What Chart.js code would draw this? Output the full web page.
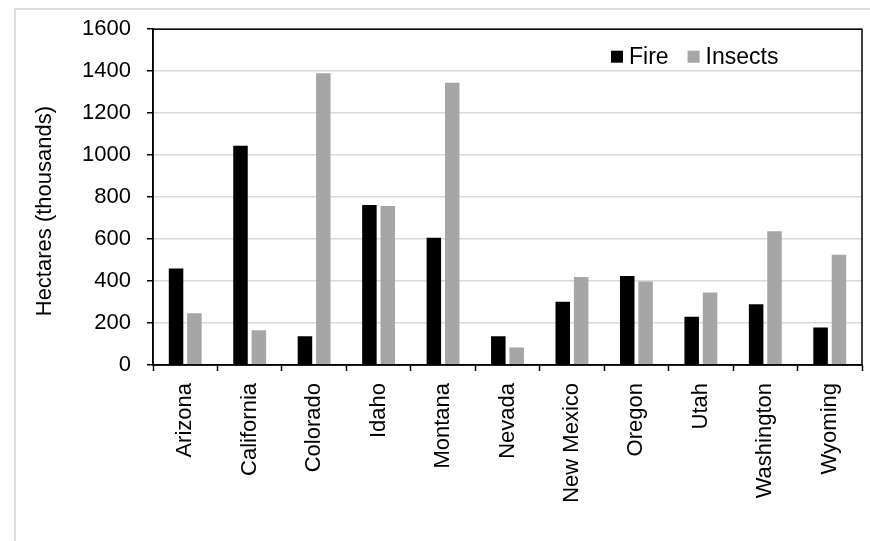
<!DOCTYPE html>
<html>
<head>
<meta charset="utf-8">
<script src="https://cdn.jsdelivr.net/npm/chart.js@4/dist/chart.umd.min.js"></script>
<style>
  html, body { margin: 0; padding: 0; background: #fff; }
  #wrap { width: 870px; height: 541px; position: relative; }
</style>
</head>
<body>
<div id="wrap"><canvas id="c" width="870" height="541"></canvas></div>
<script>
// Area affected by fire and insects, by western state (thousand hectares)
const states = ['Arizona', 'California', 'Colorado', 'Idaho', 'Montana', 'Nevada',
                'New Mexico', 'Oregon', 'Utah', 'Washington', 'Wyoming'];
const fireValues    = [460, 1045, 137, 762, 606, 137, 301, 424, 230, 289, 179];
const insectValues  = [246, 165, 1390, 757, 1345, 83, 419, 398, 346, 637, 525];
const seriesNames   = ['Fire', 'Insects'];
const yTickValues   = [0, 200, 400, 600, 800, 1000, 1200, 1400, 1600];
const yAxisTitle    = 'Hectares (thousands)';

const FONT = '"Liberation Sans", Arial, sans-serif';
const FIRE_COLOR = '#000000';
const INSECT_COLOR = '#a6a6a6';

// Light frame around the whole figure
const figureFrame = {
  id: 'figureFrame',
  beforeDraw(chart) {
    const ctx = chart.ctx;
    ctx.save();
    ctx.fillStyle = '#fff';
    ctx.fillRect(0, 0, chart.width, chart.height);
    ctx.strokeStyle = '#dcdcdc';
    ctx.lineWidth = 2;
    ctx.beginPath();
    ctx.moveTo(15, chart.height);
    ctx.lineTo(15, 9);
    ctx.lineTo(chart.width, 9);
    ctx.stroke();
    ctx.restore();
  }
};

// Black box around the plotting area, plus the vertical axis title
const plotBox = {
  id: 'plotBox',
  afterDraw(chart) {
    const { ctx, chartArea: a } = chart;
    ctx.save();
    ctx.strokeStyle = '#000';
    ctx.lineWidth = 1.5;
    ctx.strokeRect(a.left, a.top, a.right - a.left, a.bottom - a.top);

    // axis title, set slightly below the plot's mid-height
    ctx.translate(a.left - 108, (a.top + a.bottom) / 2 + 14);
    ctx.rotate(-Math.PI / 2);
    ctx.font = '22px ' + FONT;
    ctx.fillStyle = '#000';
    ctx.textAlign = 'center';
    ctx.textBaseline = 'middle';
    ctx.fillText(yAxisTitle, 0, 0);
    ctx.restore();
  }
};

// Legend drawn inside the plot, top right
const insideLegend = {
  id: 'insideLegend',
  afterDraw(chart) {
    const { ctx, chartArea: a } = chart;
    const ds = chart.data.datasets;
    ctx.save();
    ctx.font = '23px ' + FONT;
    ctx.textBaseline = 'middle';
    const cy = a.top + 27.5;
    let x = a.right - 251;
    const box = 12;
    ds.forEach((d) => {
      ctx.fillStyle = d.backgroundColor;
      ctx.fillRect(x, cy - box / 2, box, box);
      ctx.fillStyle = '#000';
      ctx.textAlign = 'left';
      ctx.fillText(d.label, x + box + 6, cy + 1);
      x += box + 6 + ctx.measureText(d.label).width + 19;
    });
    ctx.restore();
  }
};

new Chart(document.getElementById('c'), {
  type: 'bar',
  data: {
    labels: states,
    datasets: [
      { label: seriesNames[0], data: fireValues, backgroundColor: FIRE_COLOR,
        borderWidth: 0 },
      { label: seriesNames[1], data: insectValues, backgroundColor: INSECT_COLOR,
        borderWidth: 0 }
    ]
  },
  options: {
    responsive: false,
    animation: false,
    devicePixelRatio: 1,
    layout: { padding: { left: 14, top: 29, right: 8, bottom: 0 } },
    datasets: { bar: { categoryPercentage: 0.57, barPercentage: 0.79 } },
    plugins: {
      legend: { display: false },
      tooltip: { enabled: false }
    },
    scales: {
      x: {
        grid: {
          offset: true,
          drawOnChartArea: false,
          drawTicks: true,
          tickLength: 6,
          tickWidth: 1.5,
          tickColor: '#000'
        },
        border: { color: '#000', width: 1.5 },
        ticks: {
          minRotation: 90,
          maxRotation: 90,
          autoSkip: false,
          padding: 12,
          color: '#000',
          font: { family: FONT, size: 22 }
        },
        afterFit(scale) { scale.height = 176; }
      },
      y: {
        min: 0,
        max: 1600,
        afterBuildTicks(scale) { scale.ticks = yTickValues.map(v => ({ value: v })); },
        grid: {
          color: '#d9d9d9',
          lineWidth: 1.5,
          drawTicks: true,
          tickLength: 6,
          tickWidth: 1.5,
          tickColor: '#000'
        },
        border: { color: '#000', width: 1.5 },
        ticks: {
          padding: 16,
          color: '#000',
          font: { family: FONT, size: 22 },
          callback: (v) => String(v)
        },
        title: { display: false },
        afterFit(scale) { scale.width = 139; }
      }
    }
  },
  plugins: [figureFrame, plotBox, insideLegend]
});
</script>
</body>
</html>
